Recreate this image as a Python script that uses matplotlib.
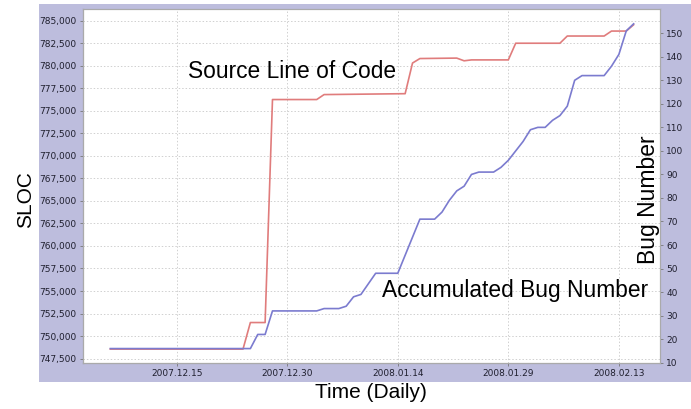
import numpy as np
import pandas as pd
import matplotlib
matplotlib.use("Agg")
import matplotlib.pyplot as plt
import matplotlib.dates as mdates
from matplotlib.patches import Rectangle
from matplotlib.ticker import FuncFormatter

# ---- data ----
sloc_dates = ['2007-12-06', '2007-12-24', '2007-12-25', '2007-12-27', '2007-12-28',
              '2008-01-03', '2008-01-04', '2008-01-15', '2008-01-16', '2008-01-17',
              '2008-01-22', '2008-01-23', '2008-01-24', '2008-01-29', '2008-01-30',
              '2008-02-05', '2008-02-06', '2008-02-11', '2008-02-12', '2008-02-14',
              '2008-02-15']
sloc_values = [748550, 748550, 751500, 751500, 776250,
               776250, 776800, 776900, 780300, 780800,
               780850, 780550, 780650, 780650, 782500,
               782500, 783300, 783300, 783850, 783850,
               784550]

bug_dates = ['2007-12-06', '2007-12-25', '2007-12-26', '2007-12-27', '2007-12-28',
             '2008-01-03', '2008-01-04', '2008-01-06', '2008-01-07', '2008-01-08',
             '2008-01-09', '2008-01-11', '2008-01-14', '2008-01-17', '2008-01-19',
             '2008-01-20', '2008-01-21', '2008-01-22', '2008-01-23', '2008-01-24',
             '2008-01-25', '2008-01-27', '2008-01-28', '2008-01-29', '2008-01-31',
             '2008-02-01', '2008-02-02', '2008-02-03', '2008-02-04', '2008-02-05',
             '2008-02-06', '2008-02-07', '2008-02-08', '2008-02-11', '2008-02-12',
             '2008-02-13', '2008-02-14', '2008-02-15']
bug_values = [16, 16, 22, 22, 32,
              32, 33, 33, 34, 38,
              39, 48, 48, 71, 71,
              74, 79, 83, 85, 90,
              91, 91, 93, 96, 104,
              109, 110, 110, 113, 115,
              119, 130, 132, 132, 136,
              141, 151, 154]

x_tick_dates = ['2007-12-15', '2007-12-30', '2008-01-14', '2008-01-29', '2008-02-13']
sloc_ticks = np.arange(747500, 785001, 2500)
bug_ticks = np.arange(10, 151, 10)

W, H = 691, 409
fig = plt.figure(figsize=(W / 100, H / 100), dpi=100)
fig.patch.set_facecolor('white')

# lavender panel behind the chart
fig.add_artist(Rectangle((39 / W, 1 - 382 / H), 1 - 39 / W, 378 / H,
                         transform=fig.transFigure, facecolor='#bdbddd',
                         edgecolor='none', zorder=-10))

ax = fig.add_axes([83 / W, 1 - 363 / H, 577 / W, 354 / H])
ax.set_facecolor('white')
ax2 = ax.twinx()

tick_color = '#1f1f2e'
ax.plot(pd.to_datetime(sloc_dates), sloc_values, color='#e07c7c', lw=1.2)
ax2.plot(pd.to_datetime(bug_dates), bug_values, color='#7b7bcf', lw=1.2)

base = pd.Timestamp('2007-12-15')
ax.set_xlim(base - pd.Timedelta(days=12.71), base + pd.Timedelta(days=65.58))
ax.set_ylim(747009, 786299)
ax2.set_ylim(9.87, 160.3)

ax.set_xticks(pd.to_datetime(x_tick_dates))
ax.xaxis.set_major_formatter(mdates.DateFormatter('%Y.%m.%d'))
ax.set_yticks(sloc_ticks)
ax.yaxis.set_major_formatter(FuncFormatter(lambda v, p: f'{int(v):,}'))
ax2.set_yticks(bug_ticks)

for a in (ax, ax2):
    a.tick_params(length=2.5, width=0.6, color='#777777', labelsize=6.5,
                  labelcolor=tick_color, pad=2)
    for s in a.spines.values():
        s.set_color('#aaaaaa')
        s.set_linewidth(0.8)
ax.spines['left'].set_color('#888888')
ax.spines['bottom'].set_color('#888888')

ax.grid(True, color='#d0d0d0', linestyle=(0, (1.5, 2)), linewidth=0.7)
ax.set_axisbelow(True)

big = dict(family='Liberation Sans', color='black')
fig.text(26 / W, 1 - 200 / H, 'SLOC', rotation=90, ha='center', va='center', fontsize=15, **big)
fig.text(648 / W, 1 - 200 / H, 'Bug Number', rotation=90, ha='center', va='center', fontsize=16.5, **big)
fig.text(371 / W, 1 - 393 / H, 'Time (Daily)', ha='center', va='center', fontsize=15, **big)
ax.text(188.5 / W, 1 - 78.3 / H, 'Source Line of Code', transform=fig.transFigure,
        ha='left', va='baseline', fontsize=16.4, **big)
ax2.text(381.5 / W, 1 - 297 / H, 'Accumulated Bug Number', transform=fig.transFigure,
         ha='left', va='baseline', fontsize=16.4, **big)

fig.savefig('out.png', dpi=100)
